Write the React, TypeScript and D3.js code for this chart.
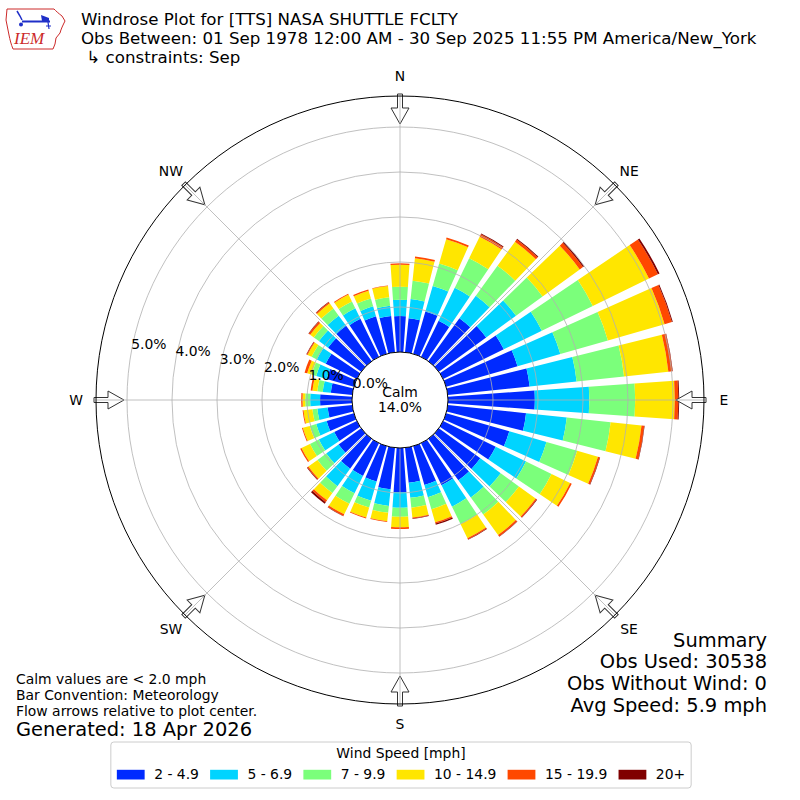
import React, { useMemo } from 'react';
import * as d3 from 'd3';

// wind directions (compass degrees, meteorological convention)
const directions = [0, 10, 20, 30, 40, 50, 60, 70, 80, 90, 100, 110, 120, 130, 140, 150, 160, 170,
    180, 190, 200, 210, 220, 230, 240, 250, 260, 270, 280, 290, 300, 310, 320, 330, 340, 350];

const speedBins = ['2 - 4.9', '5 - 6.9', '7 - 9.9', '10 - 14.9', '15 - 19.9', '20+'];
const binColors = ['#002aff', '#00d4ff', '#7bff7b', '#ffe600', '#ff4800', '#800000'];

// frequency [%] per direction for each speed bin
const freq2to5 = [0.80, 0.76, 0.98, 0.89, 1.18, 1.30, 1.50, 1.65, 1.83, 1.93, 1.75, 1.46, 1.30, 1.14, 1.14, 1.04, 0.90, 0.78,
    0.98, 0.93, 0.82, 0.81, 0.82, 0.62, 0.56, 0.63, 0.55, 0.71, 0.48, 0.63, 0.77, 0.91, 0.97, 0.94, 0.87, 0.81];
const freq5to7 = [0.36, 0.43, 0.59, 0.82, 0.62, 0.82, 0.94, 0.99, 1.05, 1.21, 0.91, 0.86, 0.75, 0.56, 0.47, 0.53, 0.28, 0.34,
    0.35, 0.37, 0.44, 0.43, 0.48, 0.34, 0.38, 0.24, 0.23, 0.22, 0.18, 0.24, 0.22, 0.25, 0.28, 0.26, 0.23, 0.23];
const freq7to10 = [0.29, 0.41, 0.52, 0.73, 0.82, 0.73, 1.26, 1.10, 1.06, 1.02, 0.98, 0.71, 0.63, 0.50, 0.47, 0.43, 0.28, 0.22,
    0.20, 0.15, 0.16, 0.26, 0.19, 0.24, 0.22, 0.15, 0.11, 0.11, 0.12, 0.11, 0.13, 0.14, 0.20, 0.17, 0.18, 0.19];
const freq10to15 = [0.49, 0.50, 0.56, 0.53, 0.66, 1.02, 1.39, 1.31, 0.99, 0.88, 0.69, 0.48, 0.46, 0.46, 0.56, 0.35, 0.30, 0.22,
    0.23, 0.19, 0.23, 0.26, 0.20, 0.25, 0.21, 0.16, 0.20, 0.06, 0.11, 0.10, 0.10, 0.10, 0.14, 0.17, 0.18, 0.25];
const freq15to20 = [0.03, 0.04, 0.04, 0.06, 0.06, 0.09, 0.22, 0.17, 0.09, 0.08, 0.06, 0.04, 0.04, 0.03, 0.04, 0.03, 0.03, 0.02,
    0.04, 0.02, 0.02, 0.04, 0.05, 0.03, 0.03, 0.02, 0.02, 0.03, 0.04, 0.06, 0.02, 0.04, 0.03, 0.02, 0.03, 0.01];
const freq20plus = [0.00, 0.00, 0.00, 0.02, 0.02, 0.03, 0.04, 0.02, 0.01, 0.02, 0.01, 0.01, 0.00, 0.01, 0.01, 0.01, 0.03, 0.01,
    0.00, 0.00, 0.00, 0.01, 0.04, 0.01, 0.00, 0.00, 0.00, 0.00, 0.00, 0.00, 0.01, 0.01, 0.01, 0.00, 0.00, 0.00];

const radialTicks = [0, 1, 2, 3, 4, 5];
const compassLabels = ['N', 'NE', 'E', 'SE', 'S', 'SW', 'W', 'NW'];
const compassAngles = [0, 45, 90, 135, 180, 225, 270, 315];

const titleLines = [
    'Windrose Plot for [TTS] NASA SHUTTLE FCLTY',
    'Obs Between: 01 Sep 1978 12:00 AM - 30 Sep 2025 11:55 PM America/New_York',
    ' \u21b3 constraints: Sep',
];
const summaryLines = ['Summary', 'Obs Used: 30538', 'Obs Without Wind: 0', 'Avg Speed: 5.9 mph'];
const noteLines = ['Calm values are < 2.0 mph', 'Bar Convention: Meteorology', 'Flow arrows relative to plot center.'];
const calmPct = 14.0;

const FONT = '"DejaVu Sans", sans-serif';
const CX = 400;
const CY = 400;
const R_CALM = 48;
const R_OUTER = 304;

const App: React.FC = () => {
    const r = d3.scaleLinear().domain([0, 5]).range([R_CALM, 273]);
    const rad = (deg: number) => (deg * Math.PI) / 180;

    const rows = directions.map((dir, i) => ({
        dir,
        b0: freq2to5[i], b1: freq5to7[i], b2: freq7to10[i],
        b3: freq10to15[i], b4: freq15to20[i], b5: freq20plus[i],
    }));
    const keys = ['b0', 'b1', 'b2', 'b3', 'b4', 'b5'];
    const stacked = d3.stack<any>().keys(keys)(rows);
    const arc = d3.arc<any>();
    const halfWidth = 4; // opening 0.8 of a 10 degree sector

    // legend layout from text widths
    const legend = useMemo(() => {
        const ctx = document.createElement('canvas').getContext('2d')!;
        ctx.font = `13.9px ${FONT}`;
        const widths = speedBins.map((s) => ctx.measureText(s).width);
        const handleW = 27.8, pad = 9.5, gap = 11.2;
        const total = d3.sum(widths) + speedBins.length * (handleW + pad) + gap * (speedBins.length - 1);
        let x = 401 - total / 2;
        const items = speedBins.map((label, i) => {
            const item = { label, x, tx: x + handleW + pad, color: binColors[i] };
            x += handleW + pad + widths[i] + gap;
            return item;
        });
        return { items, x0: 401 - total / 2 - 6, x1: 401 + total / 2 + 6, handleW };
    }, []);

    const arrowPath = 'M-2.5,-306 L2.5,-306 L2.5,-292 L9,-292 L0,-276 L-9,-292 L-2.5,-292 Z';

    return (
        <svg width={800} height={800} style={{ position: 'absolute', left: 0, top: 0, background: '#fff' }}
            fontFamily={FONT}>
            {/* logo */}
            <g>
                <path d="M7,9 L54,9 C56,11 58,13 62,16 L65,21 C63,25 61,29 60,33 L56,38 L55,44 L53,49 L13,49 C11,44 10,40 9,35 C8,30 7,25 6,20 Z"
                    fill="none" stroke="#cc2a2a" strokeWidth={1} />
                <line x1={22} y1={21.5} x2={50} y2={21.5} stroke="#1f2fc8" strokeWidth={2} />
                <path d="M17,11 L20,16 L22,20" fill="none" stroke="#1f2fc8" strokeWidth={1.5} />
                <circle cx={21} cy={24.5} r={2} fill="#1f2fc8" />
                <path d="M41,15 L49,18 L49,21 L42,21 Z" fill="#1f2fc8" />
                <path d="M48,22 L49,29 M46,26 L51,26" fill="none" stroke="#1f2fc8" strokeWidth={1.2} />
                <text x={14} y={44} fontFamily='"Liberation Serif", serif' fontStyle="italic" fontSize={17}
                    fill="#cc2a2a">IEM</text>
            </g>

            {/* title */}
            {titleLines.map((t, i) => (
                <text key={t} x={81} y={25 + i * 18.8} fontSize={16.67} fill="#000" style={{ whiteSpace: 'pre' }}>{t}</text>
            ))}

            <g transform={`translate(${CX},${CY})`}>
                {/* bars */}
                {stacked.map((series, k) => (
                    <g key={series.key} fill={binColors[k]}>
                        {series.map((d: any) => (
                            d[1] - d[0] > 0 ? (
                                <path key={d.data.dir} d={arc({
                                    innerRadius: r(d[0]), outerRadius: r(d[1]),
                                    startAngle: rad(d.data.dir - halfWidth), endAngle: rad(d.data.dir + halfWidth),
                                }) as string} />
                            ) : null
                        ))}
                    </g>
                ))}

                {/* flow arrows */}
                {compassAngles.map((a) => (
                    <path key={a} d={arrowPath} transform={`rotate(${a})`} fill="#fff" stroke="#333" strokeWidth={1} />
                ))}

                {/* grid */}
                {radialTicks.filter((v) => v > 0).map((v) => (
                    <circle key={v} r={r(v)} fill="none" stroke="#b0b0b0" strokeWidth={0.8} />
                ))}
                {compassAngles.map((a) => (
                    <line key={a} x1={R_CALM * Math.sin(rad(a))} y1={-R_CALM * Math.cos(rad(a))}
                        x2={R_OUTER * Math.sin(rad(a))} y2={-R_OUTER * Math.cos(rad(a))}
                        stroke="#b0b0b0" strokeWidth={0.8} />
                ))}
                <circle r={R_OUTER} fill="none" stroke="#000" strokeWidth={1} />
                <circle r={r(0)} fill="#fff" stroke="#000" strokeWidth={1} />

                {/* radial labels */}
                {radialTicks.map((v) => (
                    <text key={v} x={r(v) * Math.sin(rad(280))} y={-r(v) * Math.cos(rad(280)) - 4}
                        fontSize={13.9} fill="#000">{`${v.toFixed(1)}%`}</text>
                ))}

                {/* compass labels */}
                {compassLabels.map((l, i) => (
                    <text key={l} x={324 * Math.sin(rad(compassAngles[i]))} y={-324 * Math.cos(rad(compassAngles[i]))}
                        fontSize={13.9} textAnchor="middle" dominantBaseline="central" fill="#000">{l}</text>
                ))}

                {/* calm */}
                <text x={0} y={-3.3} fontSize={13.9} textAnchor="middle" fill="#000">Calm</text>
                <text x={0} y={12.3} fontSize={13.9} textAnchor="middle" fill="#000">{`${calmPct.toFixed(1)}%`}</text>
            </g>

            {/* summary */}
            {summaryLines.map((t, i) => (
                <text key={t} x={767} y={646.7 + i * 21.7} fontSize={19.44} textAnchor="end" fill="#000">{t}</text>
            ))}

            {/* notes */}
            {noteLines.map((t, i) => (
                <text key={t} x={16} y={684 + i * 15.9} fontSize={13.9} fill="#000">{t}</text>
            ))}
            <text x={16} y={735.5} fontSize={19.44} fill="#000">Generated: 18 Apr 2026</text>

            {/* legend */}
            <rect x={legend.x0} y={742} width={legend.x1 - legend.x0} height={46} rx={3}
                fill="#fff" stroke="#cccccc" strokeWidth={1} />
            <text x={401} y={758.3} fontSize={13.9} textAnchor="middle" fill="#000">Wind Speed [mph]</text>
            {legend.items.map((it) => (
                <g key={it.label}>
                    <rect x={it.x} y={769.8} width={legend.handleW} height={9.7} fill={it.color} />
                    <text x={it.tx} y={779.3} fontSize={13.9} fill="#000">{it.label}</text>
                </g>
            ))}
        </svg>
    );
};

export default App;
